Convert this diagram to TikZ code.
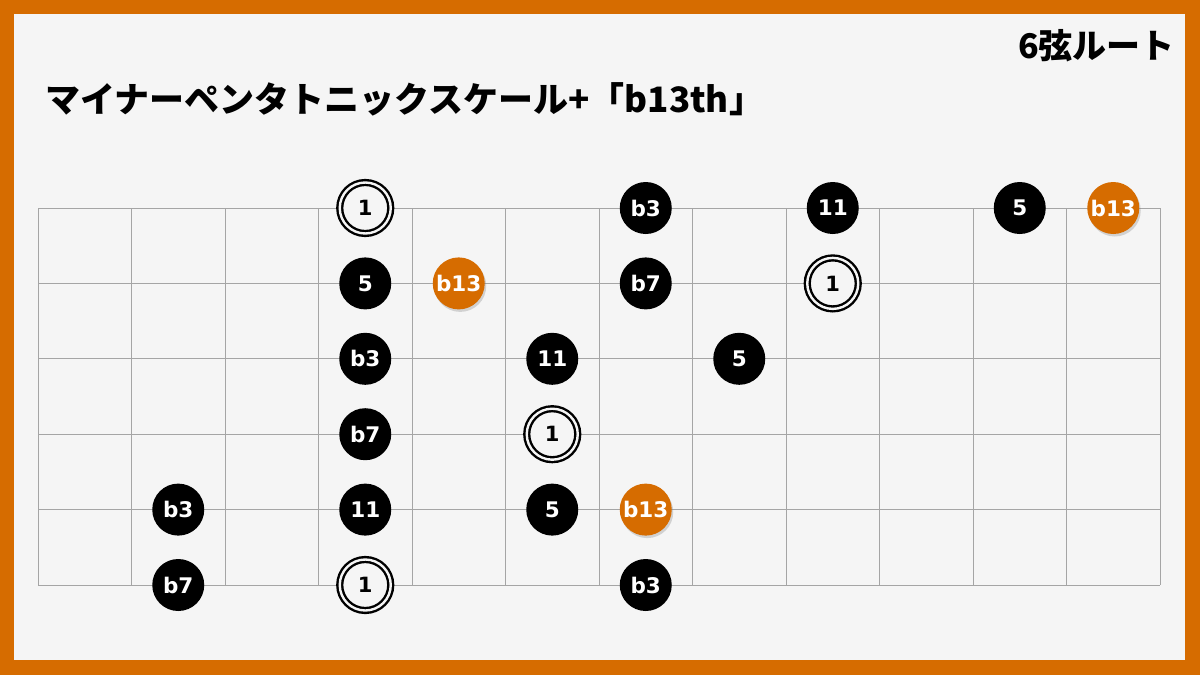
\documentclass[tikz,border=0pt]{standalone}
\usepackage{fontspec}
\setmainfont{DejaVu Sans}
\newfontfamily\jp{Noto Sans CJK JP Black}
\usetikzlibrary{shadows}
\definecolor{bord}{RGB}{214,108,0}
\definecolor{bg}{RGB}{245,245,245}
\definecolor{gridc}{RGB}{165,165,165}
\tikzset{
  gridline/.style={draw=gridc, line width=1pt},
  note/.style={circle, fill=black, minimum size=52pt, inner sep=0pt, text=white,
    font=\bfseries\fontsize{21.5}{21.5}\selectfont},
  addnote/.style={note, fill=bord, drop shadow={shadow xshift=1.5pt, shadow yshift=-2.5pt, opacity=0.3}},
  rootnote/.style={circle, draw=black, line width=2.4pt, double=bg, double distance=2.4pt,
    fill=bg, minimum size=51pt, inner sep=0pt, text=black,
    font=\bfseries\fontsize{21}{21}\selectfont},
  titletext/.style={font=\jp\fontsize{35}{35}\selectfont, inner sep=0pt}
}
\newcommand{\cx}[1]{84.75+93.5*#1}
\newcommand{\ry}[1]{208+75.4*#1}
\begin{document}
\begin{tikzpicture}[x=1pt,y=-1pt]
\useasboundingbox (0,0) rectangle (1200,675);
\fill[bord] (0,0) rectangle (1200,675);
\fill[bg] (14,14) rectangle (1185,660);
\foreach \i in {0,...,12} \draw[gridline] ({38+93.5*\i},208) -- ({38+93.5*\i},585);
\foreach \j in {0,...,5} \draw[gridline] (38,{208+75.4*\j}) -- (1160,{208+75.4*\j});
\node[titletext, anchor=base west] (title) at (45,112) {マイナーペンタトニックスケール+「b13th」};
\node[titletext, anchor=base east, font=\jp\fontsize{34}{34}\selectfont] (root6) at (1175,58) {6弦ルート};
% row 0
\node[rootnote] (n0c3) at ({\cx{3}},{\ry{0}}) {1};
\node[note] (n0c6) at ({\cx{6}},{\ry{0}}) {b3};
\node[note] (n0c8) at ({\cx{8}},{\ry{0}}) {11};
\node[note] (n0c10) at ({\cx{10}},{\ry{0}}) {5};
\node[addnote] (n0c11) at ({\cx{11}},{\ry{0}}) {b13};
% row 1
\node[note] (n1c3) at ({\cx{3}},{\ry{1}}) {5};
\node[addnote] (n1c4) at ({\cx{4}},{\ry{1}}) {b13};
\node[note] (n1c6) at ({\cx{6}},{\ry{1}}) {b7};
\node[rootnote] (n1c8) at ({\cx{8}},{\ry{1}}) {1};
% row 2
\node[note] (n2c3) at ({\cx{3}},{\ry{2}}) {b3};
\node[note] (n2c5) at ({\cx{5}},{\ry{2}}) {11};
\node[note] (n2c7) at ({\cx{7}},{\ry{2}}) {5};
% row 3
\node[note] (n3c3) at ({\cx{3}},{\ry{3}}) {b7};
\node[rootnote] (n3c5) at ({\cx{5}},{\ry{3}}) {1};
% row 4
\node[note] (n4c1) at ({\cx{1}},{\ry{4}}) {b3};
\node[note] (n4c3) at ({\cx{3}},{\ry{4}}) {11};
\node[note] (n4c5) at ({\cx{5}},{\ry{4}}) {5};
\node[addnote] (n4c6) at ({\cx{6}},{\ry{4}}) {b13};
% row 5
\node[note] (n5c1) at ({\cx{1}},{\ry{5}}) {b7};
\node[rootnote] (n5c3) at ({\cx{3}},{\ry{5}}) {1};
\node[note] (n5c6) at ({\cx{6}},{\ry{5}}) {b3};
\end{tikzpicture}
\end{document}
